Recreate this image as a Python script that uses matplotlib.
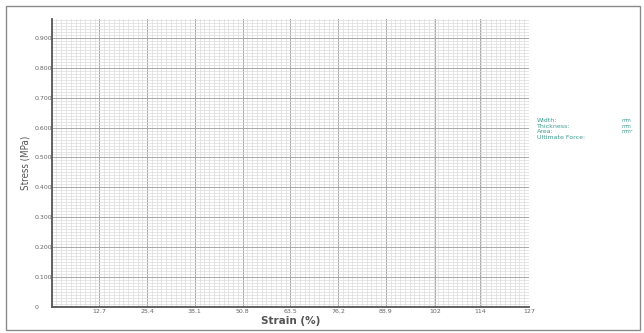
import matplotlib
matplotlib.use('Agg')
import matplotlib.pyplot as plt
import matplotlib.patches as patches
from matplotlib.ticker import MultipleLocator

x_ticks = [12.7, 25.4, 38.1, 50.8, 63.5, 76.2, 88.9, 102, 114, 127]
x_labels = ['12.7', '25.4', '38.1', '50.8', '63.5', '76.2', '88.9', '102', '114', '127']
y_ticks = [0, 0.1, 0.2, 0.3, 0.4, 0.5, 0.6, 0.7, 0.8, 0.9]
y_labels = ['0', '0.100', '0.200', '0.300', '0.400', '0.500', '0.600', '0.700', '0.800', '0.900']
x_max = 127
y_max = 0.964

info_names = ['Width:', 'Thickness:', 'Area:', 'Ultimate Force:']
info_units = ['mm', 'mm', 'mm²', '']

teal = '#3f9c8f'
txtcol = '#666666'

fig = plt.figure(figsize=(6.44, 3.33), dpi=100)
fig.patch.set_facecolor('white')

# outer frame
fig.add_artist(patches.Rectangle((6/644, 3/333), 634/644, 324/333,
                                 transform=fig.transFigure, fill=False,
                                 edgecolor='#8a8a8a', linewidth=1.0))

ax = fig.add_axes([51.7/644, 26.3/333, 477.3/644, 287.7/333])
ax.set_xlim(0, x_max)
ax.set_ylim(0, y_max)

ax.xaxis.set_minor_locator(MultipleLocator(12.7/10))
ax.yaxis.set_minor_locator(MultipleLocator(0.01))
ax.set_xticks(x_ticks)
ax.set_xticklabels(x_labels)
ax.set_yticks(y_ticks)
ax.set_yticklabels(y_labels)

ax.grid(which='minor', color='#dcdcdc', linewidth=0.5)
ax.grid(which='major', color='#a8a8a8', linewidth=0.7)
ax.set_axisbelow(True)

ax.tick_params(which='both', length=0)
ax.tick_params(axis='x', labelsize=4.5, labelcolor=txtcol, pad=2)
ax.tick_params(axis='y', labelsize=4.5, labelcolor=txtcol, pad=12)
for lab in ax.get_yticklabels():
    lab.set_ha('left')

for s in ['top', 'right']:
    ax.spines[s].set_visible(False)
ax.spines['left'].set_color('#555555')
ax.spines['left'].set_linewidth(1.3)
ax.spines['bottom'].set_color('#555555')
ax.spines['bottom'].set_linewidth(1.3)

ax.set_xlabel('Strain (%)', fontsize=7.5, fontweight='bold', color='#555555', labelpad=1)
ax.set_ylabel('Stress (MPa)', fontsize=7, color='#555555', labelpad=3,
              family=['Liberation Sans Narrow', 'DejaVu Sans'], fontstretch='condensed')

# specimen info block on the right
for i, (name, unit) in enumerate(zip(info_names, info_units)):
    y = 1 - (121 + i*5.4)/333
    fig.text(537/644, y, name, fontsize=4.5, color=teal, va='center', ha='left')
    if unit:
        fig.text(621/644, y, unit, fontsize=3.6, color=teal, va='center', ha='left')

fig.savefig('out.png', dpi=100)
